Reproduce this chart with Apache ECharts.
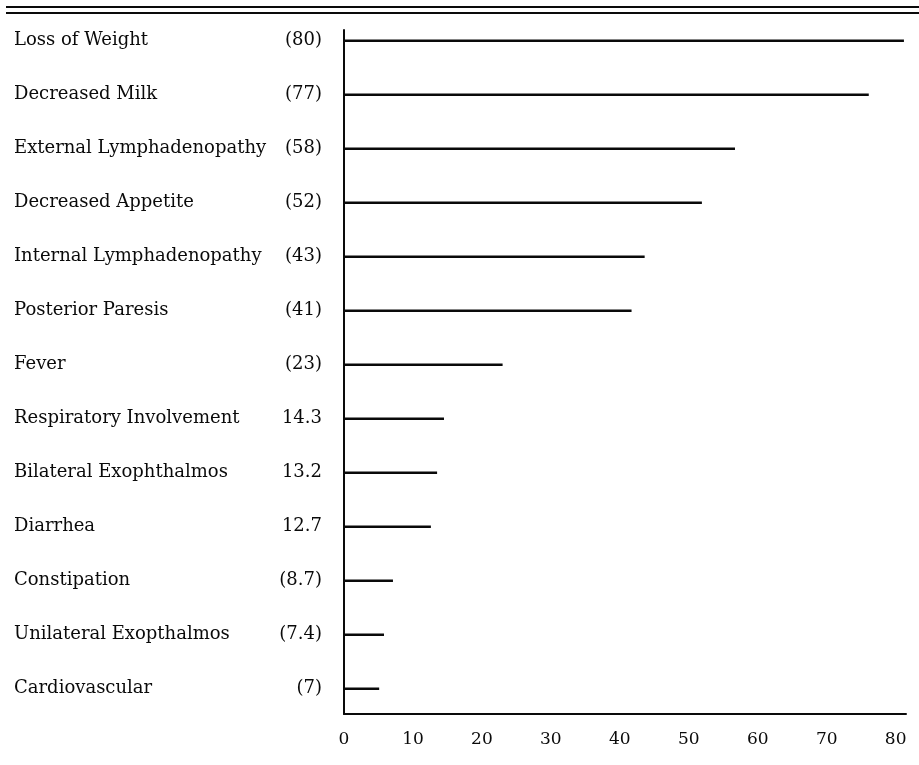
<!DOCTYPE html>
<html>
<head>
<meta charset="utf-8">
<title>Clinical signs</title>
<script src="https://cdn.jsdelivr.net/npm/echarts@6/dist/echarts.min.js"></script>
<style>
  html, body { margin: 0; padding: 0; background: #fff; }
  #chart { width: 919px; height: 765px; }
</style>
</head>
<body>
<div id="chart"></div>
<script>
  // categories, top to bottom
  const categories = [
    'Loss of Weight', 'Decreased Milk', 'External Lymphadenopathy', 'Decreased Appetite',
    'Internal Lymphadenopathy', 'Posterior Paresis', 'Fever', 'Respiratory Involvement',
    'Bilateral Exophthalmos', 'Diarrhea', 'Constipation', 'Unilateral Exopthalmos', 'Cardiovascular'
  ]
  // printed numbers next to the names
  const valueLabels = ['(80)', '(77)', '(58)', '(52)', '(43)', '(41)', '(23)', '14.3', '13.2', '12.7', '(8.7)', '(7.4)', '(7)']
  // bar lengths as drawn
  const barValues = [81.2, 76.1, 56.7, 51.9, 43.6, 41.7, 23.0, 14.5, 13.5, 12.6, 7.1, 5.8, 5.1]
  const rowIndex = categories.map((c, i) => i)

  const ink = '#0a0a0a'
  const font = 'DejaVu Serif'

  const mChart = echarts.init(document.getElementById('chart'))
  const option = {
    backgroundColor: '#fff',
    animation: false,
    grid: { left: 344, right: 13, top: 30, bottom: 51, containLabel: false },
    // double rule at the top
    graphic: [
      { type: 'line', shape: { x1: 6, y1: 7, x2: 919, y2: 7 }, style: { stroke: ink, lineWidth: 2 } },
      { type: 'line', shape: { x1: 6, y1: 13, x2: 919, y2: 13 }, style: { stroke: ink, lineWidth: 2 } }
    ],
    xAxis: {
      type: 'value',
      min: 0,
      max: 81.5,
      interval: 10,
      axisLine: { show: true, onZero: false, lineStyle: { color: ink, width: 2 } },
      axisTick: { show: false },
      splitLine: { show: false },
      axisLabel: {
        showMaxLabel: false,
        color: ink,
        fontFamily: font,
        fontSize: 17,
        margin: 17
      }
    },
    yAxis: {
      type: 'value',
      inverse: true,
      min: -0.2,
      max: 12.47,
      axisLine: { show: true, onZero: false, lineStyle: { color: ink, width: 2 } },
      axisTick: { show: false },
      splitLine: { show: false },
      axisLabel: {
        customValues: rowIndex,
        align: 'left',
        margin: 330,
        color: ink,
        fontFamily: font,
        fontSize: 18,
        formatter: (val) => '{n|' + categories[val] + '}{v|' + valueLabels[val] + '}',
        rich: {
          n: { width: 268, align: 'left', fontFamily: font, fontSize: 18, color: ink },
          v: { width: 40, align: 'right', fontFamily: font, fontSize: 18, color: ink }
        }
      }
    },
    series: [{
      type: 'custom',
      data: barValues.map((v, i) => [v, rowIndex[i]]),
      encode: { x: 0, y: 1 },
      renderItem: (params, api) => {
        const start = api.coord([0, api.value(1)])
        const end = api.coord([api.value(0), api.value(1)])
        return {
          type: 'line',
          shape: { x1: start[0], y1: start[1], x2: end[0], y2: end[1] },
          style: { stroke: ink, lineWidth: 2.5 }
        }
      }
    }]
  }
  mChart.setOption(option)
  window.addEventListener('resize', function() {
    mChart.resize()
  })
</script>
</body>
</html>
